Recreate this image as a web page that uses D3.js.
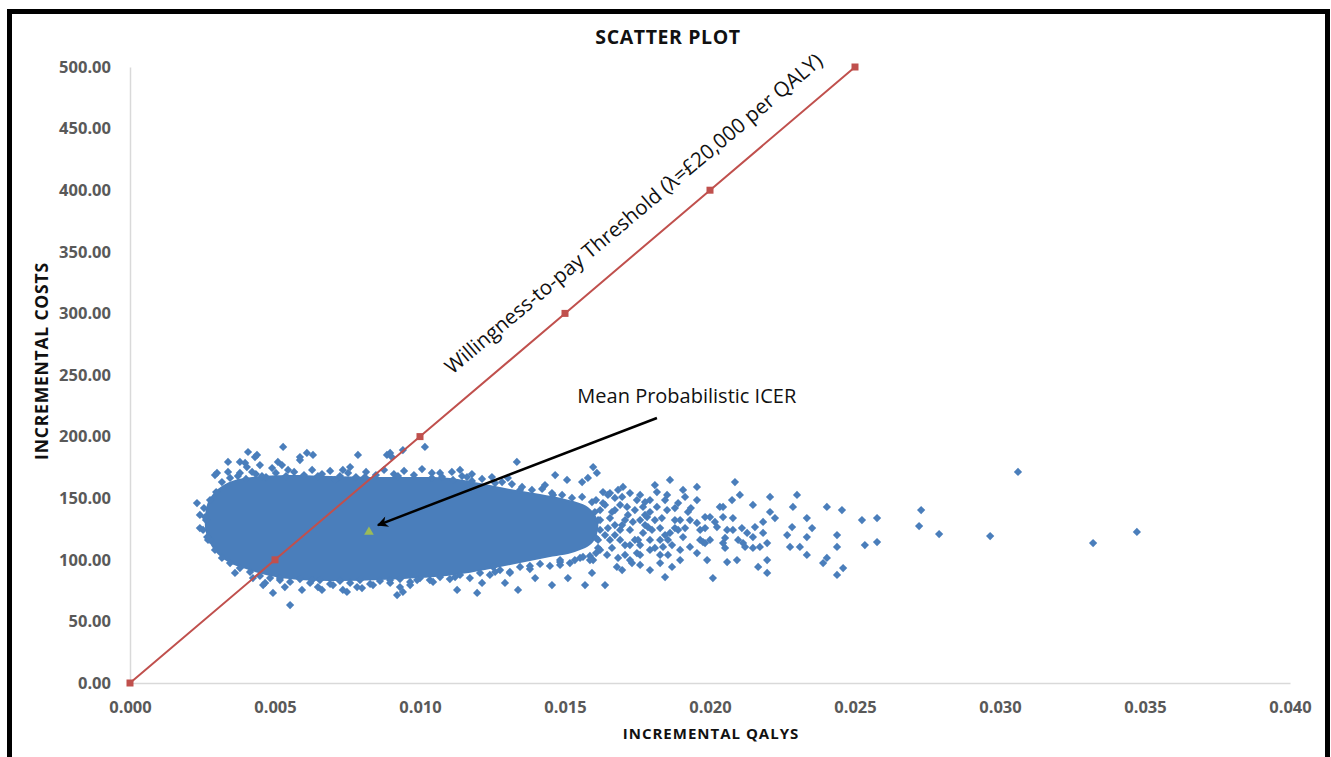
<!DOCTYPE html>
<html>
<head>
<meta charset="utf-8">
<script src="https://cdn.jsdelivr.net/npm/d3@7"></script>
<style>
  html, body { margin: 0; padding: 0; background: #fff; }
  svg { display: block; }
  text { font-family: "Open Sans", "Noto Sans", sans-serif; }
</style>
</head>
<body>
<svg id="chart" width="1331" height="757"></svg>
<script>
// ---------- DATA ----------
const qalyTicks = [0, 0.005, 0.010, 0.015, 0.020, 0.025, 0.030, 0.035, 0.040];
const costTicks = [0, 50, 100, 150, 200, 250, 300, 350, 400, 450, 500];

const thresholdQaly = [0, 0.005, 0.010, 0.015, 0.020, 0.025];
const thresholdCost = [0, 100, 200, 300, 400, 500];

const meanIcer = [0.00824, 122.6];

// Outline of the saturated (fully overlapping) centre of the simulation cloud
const denseCore = [
  [0.00259,136.4],[0.00272,148.5],[0.00303,157.5],[0.00352,164.0],[0.00421,167.2],[0.00552,168.8],
  [0.00690,168.0],[0.00828,167.2],[0.00966,167.2],[0.01103,166.4],[0.01207,162.3],[0.01310,157.5],
  [0.01414,153.4],[0.01500,149.4],[0.01579,142.9],[0.01614,130.7],[0.01597,114.4],[0.01534,106.3],
  [0.01431,101.5],[0.01328,96.6],[0.01224,91.7],[0.01121,87.7],[0.01000,85.2],[0.00862,83.6],
  [0.00724,82.8],[0.00586,83.6],[0.00483,86.9],[0.00400,92.5],[0.00338,98.2],[0.00290,108.0],[0.00262,121.8]
];

// Ragged edge of the cloud, read along its top, bottom and left border
const edgePoints = [
  [0.00317,163.1],[0.00345,166.4],[0.00372,168.0],[0.00400,165.6],[0.00434,169.6],[0.00469,167.2],[0.00503,170.5],
  [0.00538,168.0],[0.00566,171.3],[0.00600,168.8],[0.00628,172.9],[0.00662,169.6],[0.00690,172.1],[0.00724,168.0],
  [0.00752,170.5],[0.00779,167.2],[0.00814,171.3],[0.00848,168.8],[0.00876,172.9],[0.00910,169.6],[0.00945,172.1],
  [0.00979,168.8],[0.01007,173.7],[0.01041,170.5],[0.01076,167.2],[0.01110,171.3],[0.01145,168.0],[0.01179,169.6],
  [0.01214,165.6],[0.01248,167.2],[0.01283,163.1],[0.01317,161.5],[0.01352,159.1],[0.01386,156.7],[0.01421,157.5],
  [0.01455,154.2],[0.01490,152.6],[0.01524,150.2],[0.01559,151.0],[0.01593,146.9],
  [0.00293,108.0],[0.00317,101.5],[0.00345,97.4],[0.00379,93.3],[0.00414,90.1],[0.00448,86.9],[0.00483,85.2],
  [0.00517,83.6],[0.00552,82.0],[0.00586,84.4],[0.00621,81.2],[0.00655,83.6],[0.00690,80.4],[0.00724,82.8],
  [0.00759,81.2],[0.00793,83.6],[0.00828,80.4],[0.00862,82.8],[0.00897,81.2],[0.00931,84.4],[0.00966,82.0],
  [0.01000,85.2],[0.01034,83.6],[0.01069,86.0],[0.01103,84.4],[0.01138,87.7],[0.01172,85.2],[0.01207,89.3],
  [0.01241,87.7],[0.01276,91.7],[0.01310,90.1],[0.01345,94.2],[0.01379,92.5],[0.01414,96.6],[0.01448,95.0],
  [0.01483,98.2],[0.01517,97.4],[0.01552,101.5],[0.01586,103.1],[0.01614,109.6],
  [0.00255,142.0],[0.00262,132.3],[0.00252,124.2],[0.00269,116.1],[0.00276,148.5],[0.00297,155.0],[0.00241,136.4],
  [0.01603,138.8],[0.01614,132.3],[0.01621,124.2],[0.01607,117.7]
];

// Individually visible simulation points [incremental QALY, incremental cost]
const scatterPoints = [
  [0.00528,191.6],[0.00407,187.5],[0.00338,179.4],[0.00431,183.4],[0.00397,178.6],[0.00448,176.9],[0.00510,179.4],
  [0.00524,176.9],[0.00586,183.4],[0.00610,186.7],[0.00631,185.1],[0.00300,170.5],[0.00338,171.3],[0.00379,170.5],
  [0.00421,171.3],[0.00490,174.5],[0.00545,172.9],[0.00438,185.1],[0.00379,179.4],[0.00403,175.3],[0.00586,181.0],
  [0.00293,168.8],
  [0.00231,146.1],[0.00241,125.8],[0.00259,134.7],[0.00276,116.1],[0.00266,118.5],
  [0.00362,89.3],[0.00424,85.2],[0.00466,81.2],[0.00493,73.1],[0.00552,63.3],[0.00534,77.9],[0.00593,75.5],
  [0.00648,77.9],[0.00459,79.5],[0.00662,75.5],[0.00700,79.5],[0.00748,73.9],[0.00800,77.1],[0.00838,79.5],
  [0.00921,71.4],[0.00941,73.9],[0.00966,79.5],[0.01045,82.0],[0.00734,75.5],[0.00783,77.9],[0.00931,77.9],
  [0.01128,75.5],[0.01197,73.1],[0.00990,83.6],
  [0.00786,185.1],[0.00886,185.1],[0.00903,183.4],[0.00941,189.1],[0.01017,191.6],[0.00897,186.7],[0.00734,172.9],
  [0.00759,175.3],[0.00707,164.8],[0.01069,170.5],[0.01138,172.9],[0.01162,167.2],[0.01114,164.8],
  [0.00455,168.0],[0.00648,168.0],[0.00810,167.2],[0.00924,168.0],[0.01041,166.4],[0.01179,164.0],[0.01345,156.7],[0.01459,152.6],
  [0.00517,85.2],[0.00628,83.6],[0.00897,83.6],[0.01121,86.0],[0.01259,90.1],[0.01379,95.0],[0.01483,99.8],
  [0.01334,179.4],[0.01466,168.8],[0.01507,164.8],[0.01559,163.1],[0.01579,166.4],[0.01597,175.3],[0.01610,170.5],
  [0.01303,166.4],[0.01431,160.7],[0.01259,162.3],[0.01683,156.7],[0.01697,151.0],[0.01714,142.9],[0.01741,140.4],
  [0.01648,152.6],[0.01631,146.1],
  [0.01214,81.2],[0.01293,81.2],[0.01338,75.5],[0.01397,85.2],[0.01455,79.5],[0.01510,85.2],[0.01569,79.5],
  [0.01638,79.5],[0.01593,89.3],[0.01697,91.7],[0.01731,97.4],[0.01310,89.3],[0.01252,94.2],[0.01597,99.8],
  [0.01562,102.3],[0.01679,94.2],[0.01724,99.8],[0.01748,105.5],[0.01838,110.4],[0.01793,116.1],[0.01769,121.8],
  [0.01621,140.4],[0.01655,133.9],[0.01672,128.2],[0.01638,120.1],[0.01690,116.1],[0.01724,124.2],[0.01759,132.3],
  [0.01662,109.6],[0.01707,103.9],[0.01621,108.0],[0.01586,99.8],[0.01534,99.8],[0.01483,95.8],[0.01748,148.5],
  [0.01724,154.2],[0.01700,159.1],[0.01655,154.2],[0.01783,134.7],[0.01817,142.9],[0.01862,121.8],[0.01907,118.5],
  [0.01897,132.3],[0.01955,129.9],[0.02000,134.7],[0.02045,134.7],[0.02024,126.6],[0.01976,114.4],[0.01931,110.4],
  [0.02045,113.6],[0.02079,124.2],[0.02128,121.8],[0.02148,118.5],[0.02114,113.6],
  [0.01862,164.8],[0.01955,159.1],[0.02086,163.1],[0.01907,156.7],[0.01852,152.6],[0.01817,155.0],[0.01955,148.5],
  [0.02034,142.9],[0.02103,152.6],[0.02076,148.5],[0.02207,151.0],[0.02300,152.6],[0.02148,144.5],[0.02286,142.9],
  [0.02403,142.9],[0.02455,140.4],[0.02207,138.8],[0.02224,133.9],[0.02334,133.9],[0.02524,132.3],[0.02576,133.9],
  [0.02283,126.6],[0.02352,125.8],[0.02438,120.1],[0.02534,112.0],[0.02576,114.4],[0.02183,121.8],[0.02197,113.6],
  [0.02276,110.4],[0.02310,110.4],[0.02334,103.9],[0.02438,110.4],[0.02390,97.4],[0.02403,101.5],[0.02459,93.3],
  [0.02438,87.7],[0.02093,99.8],[0.02059,98.2],[0.02166,94.2],[0.02197,89.3],[0.02010,85.2],[0.01990,99.8],
  [0.01897,99.8],[0.01845,86.0],[0.01793,91.7],[0.01828,97.4],
  [0.02045,142.9],[0.01890,146.1],[0.01769,142.9],[0.01852,140.4],[0.01924,138.8],[0.01983,134.7],[0.02079,133.9],
  [0.02183,130.7],[0.02155,126.6],[0.02017,130.7],[0.02110,125.8],[0.02059,124.2],[0.02266,120.1],[0.02334,118.5],
  [0.02097,116.1],[0.02052,117.7],[0.02172,110.4],[0.02148,109.6],[0.02121,110.4],[0.02052,109.6],[0.01983,113.6],
  [0.02197,99.8],[0.01855,103.9],[0.01869,94.2],[0.01759,95.8],
  [0.01759,152.6],[0.01776,146.9],[0.01793,138.8],[0.01810,132.3],[0.01828,125.8],[0.01786,126.6],[0.01752,116.1],
  [0.01828,116.1],[0.01869,112.0],[0.01914,125.8],[0.01879,132.3],[0.01934,142.0],[0.01966,124.2],[0.01845,148.5],
  [0.01914,151.0],[0.01810,160.7],[0.02000,116.1],[0.01955,105.5],[0.01897,108.0],[0.01793,108.0],[0.01690,124.2],
  [0.01707,132.3],[0.01672,140.4],[0.01621,132.3],[0.01614,116.1],[0.01759,112.0],
  [0.01638,144.5],[0.01662,138.8],[0.01690,144.5],[0.01717,136.4],[0.01672,120.1],[0.01707,112.0],[0.01741,116.1],
  [0.01776,128.2],[0.01734,130.7],[0.01648,125.8],[0.01645,103.9],[0.01683,101.5],[0.01759,103.9],[0.01810,109.6],
  [0.01845,120.1],[0.01879,125.8],
  [0.01607,148.5],[0.01631,155.0],[0.01607,105.5],[0.01655,116.1],[0.01697,128.2],[0.01724,112.0],[0.01776,136.4],
  [0.01800,124.2],[0.01834,133.9],[0.01855,116.1],[0.01890,124.2],[0.01931,132.3],[0.01966,116.1],[0.01793,148.5],
  [0.01879,142.0],[0.01983,125.8],[0.01828,103.9],[0.01672,150.2],
  [0.02728,140.4],[0.02721,127.4],[0.02790,120.9],[0.02966,119.3],[0.03062,171.3],[0.03321,113.6],[0.03472,122.6]
];

// annotation anchors (data units)
const thresholdLabelAt = [0.0174, 380];
const icerLabelAt = [0.0192, 227];
const arrowFrom = [0.01817, 215.1];
const arrowTo = [0.00855, 128.2];

// ---------- CHART ----------
const svg = d3.select("#chart");
const x = d3.scaleLinear().domain([0, 0.04]).range([130, 1290]);
const y = d3.scaleLinear().domain([0, 500]).range([683, 67]);

const blue = "#4a7ebb", red = "#c0504d", green = "#9bbb59", tickGrey = "#595959";

// outer frame
svg.append("rect").attr("x", 9.5).attr("y", 11.5).attr("width", 1318).attr("height", 770)
  .attr("fill", "none").attr("stroke", "#000").attr("stroke-width", 5);

// title
svg.append("text").attr("x", 668).attr("y", 44).attr("text-anchor", "middle")
  .attr("font-size", 19.5).attr("font-weight", 700).attr("letter-spacing", 0.6).attr("fill", "#111")
  .text("SCATTER PLOT");

// axes
const xAxis = svg.append("g").attr("transform", `translate(0,${y(0)})`)
  .call(d3.axisBottom(x).tickValues(qalyTicks).tickFormat(d3.format(".3f")).tickSize(0).tickPadding(18));
const yAxis = svg.append("g").attr("transform", `translate(${x(0)},0)`)
  .call(d3.axisLeft(y).tickValues(costTicks).tickFormat(d3.format(".2f")).tickSize(0).tickPadding(19));
[xAxis, yAxis].forEach(g => {
  g.select(".domain").attr("stroke", "#d9d9d9").attr("stroke-width", 1.5);
  g.selectAll("text").attr("font-family", "'Open Sans', sans-serif").attr("font-size", 16.5)
    .attr("font-weight", 700).attr("fill", tickGrey);
});

// axis titles
svg.append("text").attr("x", 711).attr("y", 739).attr("text-anchor", "middle")
  .attr("font-size", 15).attr("font-weight", 700).attr("letter-spacing", 1).attr("fill", "#111")
  .text("INCREMENTAL QALYS");
svg.append("text").attr("transform", "translate(48,361) rotate(-90)").attr("text-anchor", "middle")
  .attr("font-size", 17.5).attr("font-weight", 700).attr("letter-spacing", 0.8).attr("fill", "#111")
  .text("INCREMENTAL COSTS");

// dense core of the cloud
svg.append("path")
  .attr("d", d3.line().x(d => x(d[0])).y(d => y(d[1])).curve(d3.curveCatmullRomClosed)(denseCore))
  .attr("fill", blue);

// scatter points (diamonds)
const diamond = d3.symbol().type(d3.symbolSquare).size(34);
svg.append("g").selectAll("path").data(edgePoints.concat(scatterPoints)).join("path")
  .attr("d", diamond)
  .attr("transform", d => `translate(${x(d[0])},${y(d[1])}) rotate(45)`)
  .attr("fill", blue);

// threshold line
const thr = thresholdQaly.map((q, i) => [q, thresholdCost[i]]);
svg.append("path").attr("d", d3.line().x(d => x(d[0])).y(d => y(d[1]))(thr))
  .attr("fill", "none").attr("stroke", red).attr("stroke-width", 2);
svg.append("g").selectAll("rect").data(thr).join("rect")
  .attr("x", d => x(d[0]) - 3.5).attr("y", d => y(d[1]) - 3.5)
  .attr("width", 7).attr("height", 7).attr("fill", red);

// threshold label
svg.append("text")
  .attr("transform", `translate(${x(thresholdLabelAt[0])},${y(thresholdLabelAt[1])}) rotate(-40)`)
  .attr("text-anchor", "middle").attr("dominant-baseline", "middle")
  .attr("font-size", 20.5).attr("fill", "#111")
  .text("Willingness-to-pay Threshold (λ=£20,000 per QALY)");

// mean ICER marker
svg.append("path")
  .attr("d", d3.symbol().type(d3.symbolTriangle).size(40))
  .attr("transform", `translate(${x(meanIcer[0])},${y(meanIcer[1])})`)
  .attr("fill", green);

// arrow annotation
const defs = svg.append("defs");
defs.append("marker").attr("id", "arrowHead").attr("viewBox", "0 0 10 10")
  .attr("refX", 9).attr("refY", 5).attr("markerWidth", 14).attr("markerHeight", 11)
  .attr("markerUnits", "userSpaceOnUse").attr("orient", "auto")
  .append("path").attr("d", "M0,0 L10,5 L0,10 L3,5 Z").attr("fill", "#000");
svg.append("line")
  .attr("x1", x(arrowFrom[0])).attr("y1", y(arrowFrom[1]))
  .attr("x2", x(arrowTo[0])).attr("y2", y(arrowTo[1]))
  .attr("stroke", "#000").attr("stroke-width", 2.5).attr("marker-end", "url(#arrowHead)");
svg.append("text").attr("x", x(icerLabelAt[0])).attr("y", y(icerLabelAt[1]))
  .attr("text-anchor", "middle").attr("font-size", 20).attr("fill", "#111")
  .text("Mean Probabilistic ICER");
</script>
</body>
</html>
